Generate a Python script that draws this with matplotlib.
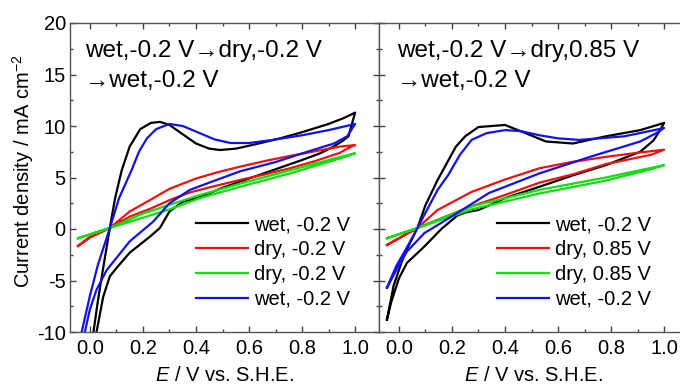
import matplotlib
matplotlib.use("Agg")
import matplotlib.pyplot as plt
from matplotlib.ticker import MultipleLocator

plt.rcParams['font.family'] = ['Liberation Sans', 'DejaVu Sans']
plt.rcParams['mathtext.fontset'] = 'custom'
plt.rcParams['mathtext.rm'] = 'Liberation Sans'
plt.rcParams['mathtext.it'] = 'Liberation Sans:italic'
plt.rcParams['axes.unicode_minus'] = False

# ---- left panel: wet,-0.2 V -> dry,-0.2 V -> wet,-0.2 V ----
L_wet1_E = [0.008, 0.03, 0.05, 0.075, 0.095, 0.12, 0.15, 0.19, 0.23, 0.264, 0.30, 0.35, 0.40, 0.45,
            0.49, 0.55, 0.62, 0.717, 0.80, 0.90, 0.96, 1.0,
            0.99, 0.975, 0.95, 0.918, 0.868, 0.80, 0.70, 0.60, 0.50, 0.415, 0.35, 0.30, 0.264,
            0.226, 0.15, 0.10, 0.075, 0.05, 0.025, 0.02]
L_wet1_j = [-11, -7.0, -3.8, 0.07, 3.0, 5.7, 8.0, 9.7, 10.3, 10.4, 10.1, 9.2, 8.3, 7.8,
            7.67, 7.8, 8.2, 8.8, 9.4, 10.2, 10.8, 11.3,
            10.4, 9.0, 8.5, 8.0, 7.35, 6.7, 5.8, 4.9, 4.0, 3.1, 2.65, 1.7, 0.1,
            -0.75, -2.3, -3.8, -4.6, -6.6, -10, -11]

L_dry1_E = [-0.045, 0.0, 0.075, 0.15, 0.226, 0.30, 0.40, 0.48, 0.566, 0.66, 0.755, 0.85, 0.943, 1.0,
            0.97, 0.943, 0.85, 0.755, 0.66, 0.566, 0.46, 0.377, 0.30, 0.226, 0.15, 0.075, 0.0, -0.045]
L_dry1_j = [-1.65, -0.75, 0.1, 1.7, 2.8, 3.9, 4.9, 5.5, 6.05, 6.6, 7.1, 7.55, 8.0, 8.15,
            7.8, 7.4, 6.6, 5.9, 5.3, 4.76, 4.1, 3.55, 2.8, 1.95, 1.2, 0.1, -0.85, -1.65]

L_dry2_E = [-0.045, 0.075, 0.2, 0.30, 0.415, 0.566, 0.755, 0.9, 1.0,
            0.95, 0.755, 0.566, 0.415, 0.30, 0.2, 0.075, -0.045]
L_dry2_j = [-0.9, 0.1, 1.5, 2.35, 3.3, 4.4, 5.7, 6.7, 7.35,
            6.9, 5.4, 4.1, 3.0, 1.9, 1.1, 0.1, -0.9]

L_wet2_E = [-0.035, -0.031, 0.0, 0.03, 0.075, 0.11, 0.157, 0.185, 0.215, 0.25, 0.30, 0.35, 0.415, 0.47,
            0.53, 0.60, 0.69, 0.80, 0.90, 1.0,
            0.99, 0.97, 0.92, 0.82, 0.70, 0.566, 0.45, 0.377, 0.30, 0.238, 0.15, 0.063, 0.025,
            0.0, -0.019, -0.025]
L_wet2_j = [-11, -10, -6.5, -3.5, 0.07, 3.0, 5.7, 7.5, 8.8, 9.7, 10.2, 10.0, 9.3, 8.7,
            8.35, 8.35, 8.65, 9.1, 9.6, 10.2,
            9.8, 9.0, 8.3, 7.5, 6.5, 5.6, 4.5, 3.8, 2.5, 0.7, -1.2, -4.0, -5.9,
            -7.8, -10, -11]

# ---- right panel: wet,-0.2 V -> dry,0.85 V -> wet,-0.2 V ----
R_wet1_E = [-0.045, -0.02, 0.02, 0.07, 0.10, 0.146, 0.215, 0.25, 0.30, 0.40, 0.478, 0.554, 0.656,
            0.78, 0.91, 1.0,
            0.985, 0.96, 0.91, 0.78, 0.655, 0.53, 0.40, 0.35, 0.30, 0.25, 0.22, 0.16, 0.096, 0.03,
            0.0, -0.03, -0.045]
R_wet1_j = [-8.8, -5.5, -2.5, 0.1, 2.3, 4.76, 8.0, 9.0, 9.9, 10.1, 9.3, 8.5, 8.3,
            9.0, 9.6, 10.3,
            9.6, 8.6, 7.5, 6.2, 5.2, 4.1, 3.0, 2.4, 1.85, 1.6, 1.3, 0.0, -1.7, -3.3,
            -4.8, -7.2, -8.8]

R_dry1_E = [-0.045, 0.07, 0.146, 0.274, 0.40, 0.53, 0.65, 0.78, 0.90, 1.0,
            0.95, 0.78, 0.655, 0.53, 0.40, 0.274, 0.146, 0.07, -0.045]
R_dry1_j = [-1.55, 0.1, 1.85, 3.6, 4.8, 5.9, 6.5, 7.0, 7.4, 7.7,
            7.2, 6.3, 5.3, 4.5, 3.3, 2.2, 0.9, 0.1, -1.55]

R_dry2_E = [-0.045, 0.07, 0.274, 0.53, 0.78, 1.0,
            0.95, 0.78, 0.53, 0.274, 0.07, -0.045]
R_dry2_j = [-0.9, 0.1, 2.2, 3.8, 5.0, 6.2,
            5.8, 4.7, 3.45, 1.9, 0.1, -0.9]

R_wet2_E = [-0.045, -0.01, 0.03, 0.07, 0.146, 0.185, 0.23, 0.274, 0.33, 0.40, 0.46, 0.53, 0.60,
            0.68, 0.85, 1.0,
            0.97, 0.91, 0.72, 0.53, 0.34, 0.26, 0.16, 0.096, 0.03, -0.01, -0.045]
R_wet2_j = [-5.7, -3.6, -1.8, 0.1, 3.8, 5.2, 7.2, 8.65, 9.3, 9.6, 9.5, 9.1, 8.8,
            8.65, 9.0, 9.8,
            9.3, 8.5, 7.0, 5.4, 3.5, 2.2, 0.6, -0.4, -2.2, -4.0, -5.7]

left_labels = ["wet, -0.2 V", "dry, -0.2 V", "dry, -0.2 V", "wet, -0.2 V"]
right_labels = ["wet, -0.2 V", "dry, 0.85 V", "dry, 0.85 V", "wet, -0.2 V"]
left_title = "wet,-0.2 V\u2192dry,-0.2 V\n\u2192wet,-0.2 V"
right_title = "wet,-0.2 V\u2192dry,0.85 V\n\u2192wet,-0.2 V"

colors = ['black', '#ee1111', '#11dd11', '#1111ee']

fig = plt.figure(figsize=(6.8, 3.87), dpi=100)
ax1 = fig.add_axes([70 / 680, 1 - 332 / 387, 309 / 680, 309 / 387])
ax2 = fig.add_axes([379 / 680, 1 - 332 / 387, 309 / 680, 309 / 387])

left_curves = [(L_wet1_E, L_wet1_j), (L_dry1_E, L_dry1_j), (L_dry2_E, L_dry2_j), (L_wet2_E, L_wet2_j)]
right_curves = [(R_wet1_E, R_wet1_j), (R_dry1_E, R_dry1_j), (R_dry2_E, R_dry2_j), (R_wet2_E, R_wet2_j)]

for ax, curves, labels, title, xpos, legx in [(ax1, left_curves, left_labels, left_title, 0.049, 0.408),
                                               (ax2, right_curves, right_labels, right_title, 0.058, 0.382)]:
    for (E, j), c, lab in zip(curves, colors, labels):
        ax.plot(E, j, color=c, lw=1.6, label=lab)
    ax.set_xlim(-0.075, 1.09)
    ax.set_ylim(-10, 20)
    ax.xaxis.set_major_locator(MultipleLocator(0.2))
    ax.xaxis.set_minor_locator(MultipleLocator(0.1))
    ax.yaxis.set_major_locator(MultipleLocator(5))
    ax.yaxis.set_minor_locator(MultipleLocator(2.5))
    ax.tick_params(which='both', direction='in', top=True, right=True, colors='#444444',
                   labelcolor='black', labelsize=14.5)
    ax.tick_params(which='major', length=4, width=1)
    ax.tick_params(which='minor', length=2.5, width=1)
    ax.tick_params(axis='x', pad=5)
    ax.tick_params(axis='y', pad=3)
    for s in ax.spines.values():
        s.set_color('#555555')
        s.set_linewidth(1)
    ax.set_xlabel('$E$ / V vs. S.H.E.', fontsize=14.5, labelpad=6)
    ax.text(xpos, 0.945, title, transform=ax.transAxes, fontsize=17.5, va='top', ha='left',
            linespacing=1.45)
    ax.legend(loc='upper left', bbox_to_anchor=(legx, 0.377),
              frameon=False, fontsize=14.5, handlelength=2.6, handletextpad=0.3,
              labelspacing=0.285, borderpad=0, borderaxespad=0)

ax1.set_ylabel('Current density / mA cm$^{-2}$', fontsize=14.5)
ax1.yaxis.set_label_coords(-0.11, 0.52)
ax2.tick_params(axis='y', labelleft=False)

fig.savefig('out.png', dpi=100)
